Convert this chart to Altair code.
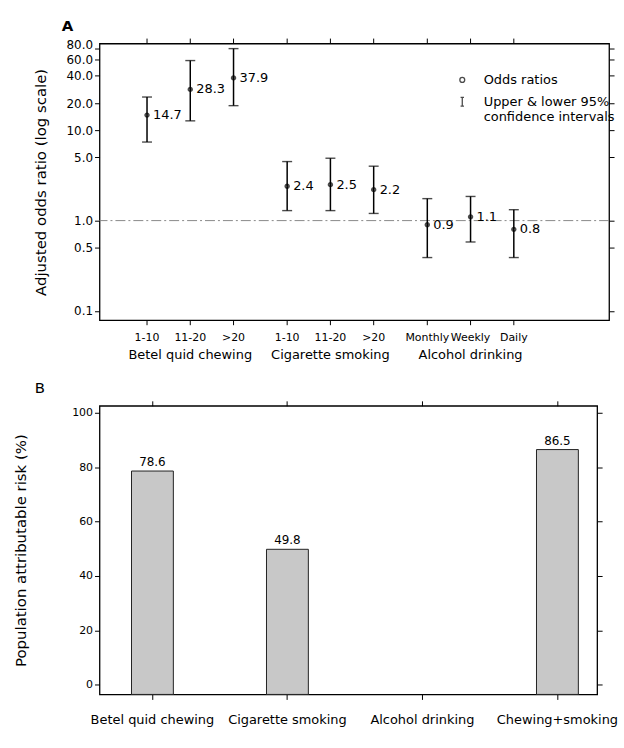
import altair as alt
import pandas as pd

FONT = "DejaVu Sans"

# ---------------- Panel A data ----------------
groups_a = ["Betel quid chewing", "Cigarette smoking", "Alcohol drinking"]
levels_a = [["1-10", "11-20", ">20"], ["1-10", "11-20", ">20"], ["Monthly", "Weekly", "Daily"]]
odds_ratio = [14.7, 28.3, 37.9, 2.4, 2.5, 2.2, 0.9, 1.1, 0.8]
ci_lower = [7.4, 12.7, 18.7, 1.29, 1.29, 1.2, 0.39, 0.58, 0.39]
ci_upper = [23.3, 59.0, 80.0, 4.5, 4.9, 4.0, 1.75, 1.85, 1.32]
y_ticks_a = [0.1, 0.5, 1, 5, 10, 20, 40, 60, 80]
reference_line = [1.0]
legend_items = ["Odds ratios", "Upper & lower 95% confidence intervals"]

# ---------------- Panel B data ----------------
categories_b = ["Betel quid chewing", "Cigarette smoking", "Alcohol drinking", "Chewing+smoking"]
par_b = [78.6, 49.8, None, 86.5]
y_ticks_b = [0, 20, 40, 60, 80, 100]

rows = []
for g, lvls in zip(groups_a, levels_a):
    for lv in lvls:
        rows.append({"group": g, "level": lv})
df_a = pd.DataFrame(rows)
df_a["or"] = odds_ratio
df_a["lo"] = ci_lower
df_a["hi"] = ci_upper
df_ref = pd.DataFrame({"ref": reference_line})
df_b = pd.DataFrame({"cat": categories_b, "par": par_b})

W_A, H_A = 512, 278
W_B, H_B = 500, 290
Y_MIN_B, Y_MAX_B = -3.6, 102.6

xs_a = alt.Scale(domain=groups_a, paddingInner=0.074, paddingOuter=0.355, align=0.26)
xo_a = alt.Scale(paddingInner=0, paddingOuter=0)
ys_a = alt.Scale(type="log", domain=[0.079, 91])

base_a = alt.Chart(df_a).transform_window(rank="row_number()", groupby=["group"])


def XA(axis=None):
    return alt.X("group:N", scale=xs_a, axis=axis, title=None)


XO = alt.XOffset("rank:O", scale=xo_a)

ibeam = "M0,-1.8V1.8M-0.7,-1.8H0.7M-0.7,1.8H0.7"

dashed = alt.Chart(df_ref).mark_rule(color="#888888", strokeDash=[10, 3, 2, 3], strokeWidth=1).encode(
    y=alt.Y("ref:Q", scale=ys_a, axis=None)
)

ci = base_a.mark_rule(color="black", strokeWidth=1.5).encode(
    x=XA(), xOffset=XO, y=alt.Y("lo:Q", scale=ys_a, axis=None), y2="hi:Q"
)
cap_lo = base_a.mark_tick(color="black", size=10, thickness=1.4).encode(
    x=XA(), xOffset=XO, y=alt.Y("lo:Q", scale=ys_a, axis=None)
)
cap_hi = base_a.mark_tick(color="black", size=10, thickness=1.4).encode(
    x=XA(), xOffset=XO, y=alt.Y("hi:Q", scale=ys_a, axis=None)
)

points = base_a.transform_calculate(kind="'Odds ratios'").mark_point(
    color="black", filled=False, size=12, strokeWidth=2
).encode(
    x=XA(alt.Axis(title=None, labelAngle=0, ticks=False, tickSize=0, domain=False,
                  labelPadding=28, labelFontSize=13, labelOverlap=False)),
    xOffset=XO,
    y=alt.Y("or:Q", scale=ys_a,
            axis=alt.Axis(values=y_ticks_a, format=".1f", title="Adjusted odds ratio (log scale)",
                          labelFontSize=12, tickSize=5, labelPadding=2, titleFontSize=15,
                          titlePadding=18, domain=False, grid=False, labelOverlap=False,
                          labelBaseline={"condition": {"test": "datum.value == 80", "value": "alphabetic"},
                                         "value": "middle"})),
    shape=alt.Shape("kind:N", scale=alt.Scale(domain=legend_items, range=["circle", ibeam]),
                    legend=alt.Legend(title=None, orient="none", legendX=358, legendY=30,
                                      symbolSize=24, symbolStrokeColor="black", symbolStrokeWidth=1.3,
                                      labelFontSize=13, labelOffset=15, rowPadding=7, labelLimit=300,
                                      labelExpr="datum.label == 'Upper & lower 95% confidence intervals' ? ['Upper & lower 95%', 'confidence intervals'] : datum.label")),
)

labels_a = base_a.mark_text(align="left", dx=6, fontSize=13, color="black").encode(
    x=XA(), xOffset=XO,
    y=alt.Y("or:Q", scale=ys_a,
            axis=alt.Axis(orient="right", values=y_ticks_a, labels=False, title=None,
                          tickSize=5, domain=False, grid=False)),
    text=alt.Text("or:Q", format=".1f"),
)

level_labels = base_a.mark_text(fontSize=11, baseline="middle", color="black").encode(
    x=XA(), xOffset=XO, y=alt.value(H_A + 18), text="level:N"
)
ticks_bottom = base_a.mark_rule(color="black").encode(
    x=XA(), xOffset=XO, y=alt.value(H_A), y2=alt.value(H_A + 5)
)
ticks_top = base_a.mark_rule(color="black").encode(
    x=XA(), xOffset=XO, y=alt.value(-5), y2=alt.value(0)
)

chart_a = alt.layer(
    dashed, ci, cap_lo, cap_hi, points, labels_a, level_labels, ticks_bottom, ticks_top
).resolve_axis(x="independent", y="independent").properties(
    width=W_A, height=H_A,
    title=alt.Title("A", anchor="start", frame="group", dx=-38, fontSize=15, fontWeight="bold",
                    font=FONT, color="black"),
)

# ---------------- Panel B ----------------
xs_b = alt.Scale(domain=categories_b, paddingInner=0.69, paddingOuter=0.188, align=0.63)
ys_b = alt.Scale(domain=[Y_MIN_B, Y_MAX_B], nice=False, zero=False)
base_b = alt.Chart(df_b)

bars = base_b.mark_bar(fill="#c8c8c8", stroke="#222222", strokeWidth=1).encode(
    x=alt.X("cat:N", scale=xs_b, sort=None,
            axis=alt.Axis(title=None, labelAngle=0, labelFontSize=13, tickSize=5, labelPadding=14,
                          domain=False, labelOverlap=False)),
    y=alt.Y("par:Q", scale=ys_b,
            axis=alt.Axis(values=y_ticks_b, title="Population attributable risk (%)", labelFontSize=11,
                          tickSize=5, labelPadding=2, titleFontSize=15, titlePadding=43,
                          domain=False, grid=False)),
    y2=alt.Y2Datum(Y_MIN_B),
)

labels_b = base_b.mark_text(dy=-9, fontSize=12, color="black").encode(
    x=alt.X("cat:N", scale=xs_b, sort=None,
            axis=alt.Axis(orient="top", labels=False, title=None, tickSize=5, domain=False)),
    y=alt.Y("par:Q", scale=ys_b,
            axis=alt.Axis(orient="right", values=y_ticks_b, labels=False, title=None,
                          tickSize=5, domain=False, grid=False)),
    text=alt.Text("par:Q", format=".1f"),
)

chart_b = alt.layer(bars, labels_b).resolve_axis(x="independent", y="independent").properties(
    width=W_B, height=H_B,
    title=alt.Title("B", anchor="start", frame="group", dx=-65, fontSize=15, fontWeight="normal",
                    font=FONT, color="black"),
)

chart = alt.vconcat(chart_a, chart_b, spacing=18).properties(
    padding={"left": 13, "top": 16, "right": 5, "bottom": 5}
).configure(font=FONT).configure_axis(
    labelFont=FONT, titleFont=FONT, labelColor="black", titleColor="black",
    tickColor="black", domainColor="black", titleFontWeight="normal",
).configure_view(stroke="black", strokeWidth=1.3).configure_legend(
    labelFont=FONT, labelColor="black"
)

chart.save("out.html", embed_options={"renderer": "svg", "actions": False})
